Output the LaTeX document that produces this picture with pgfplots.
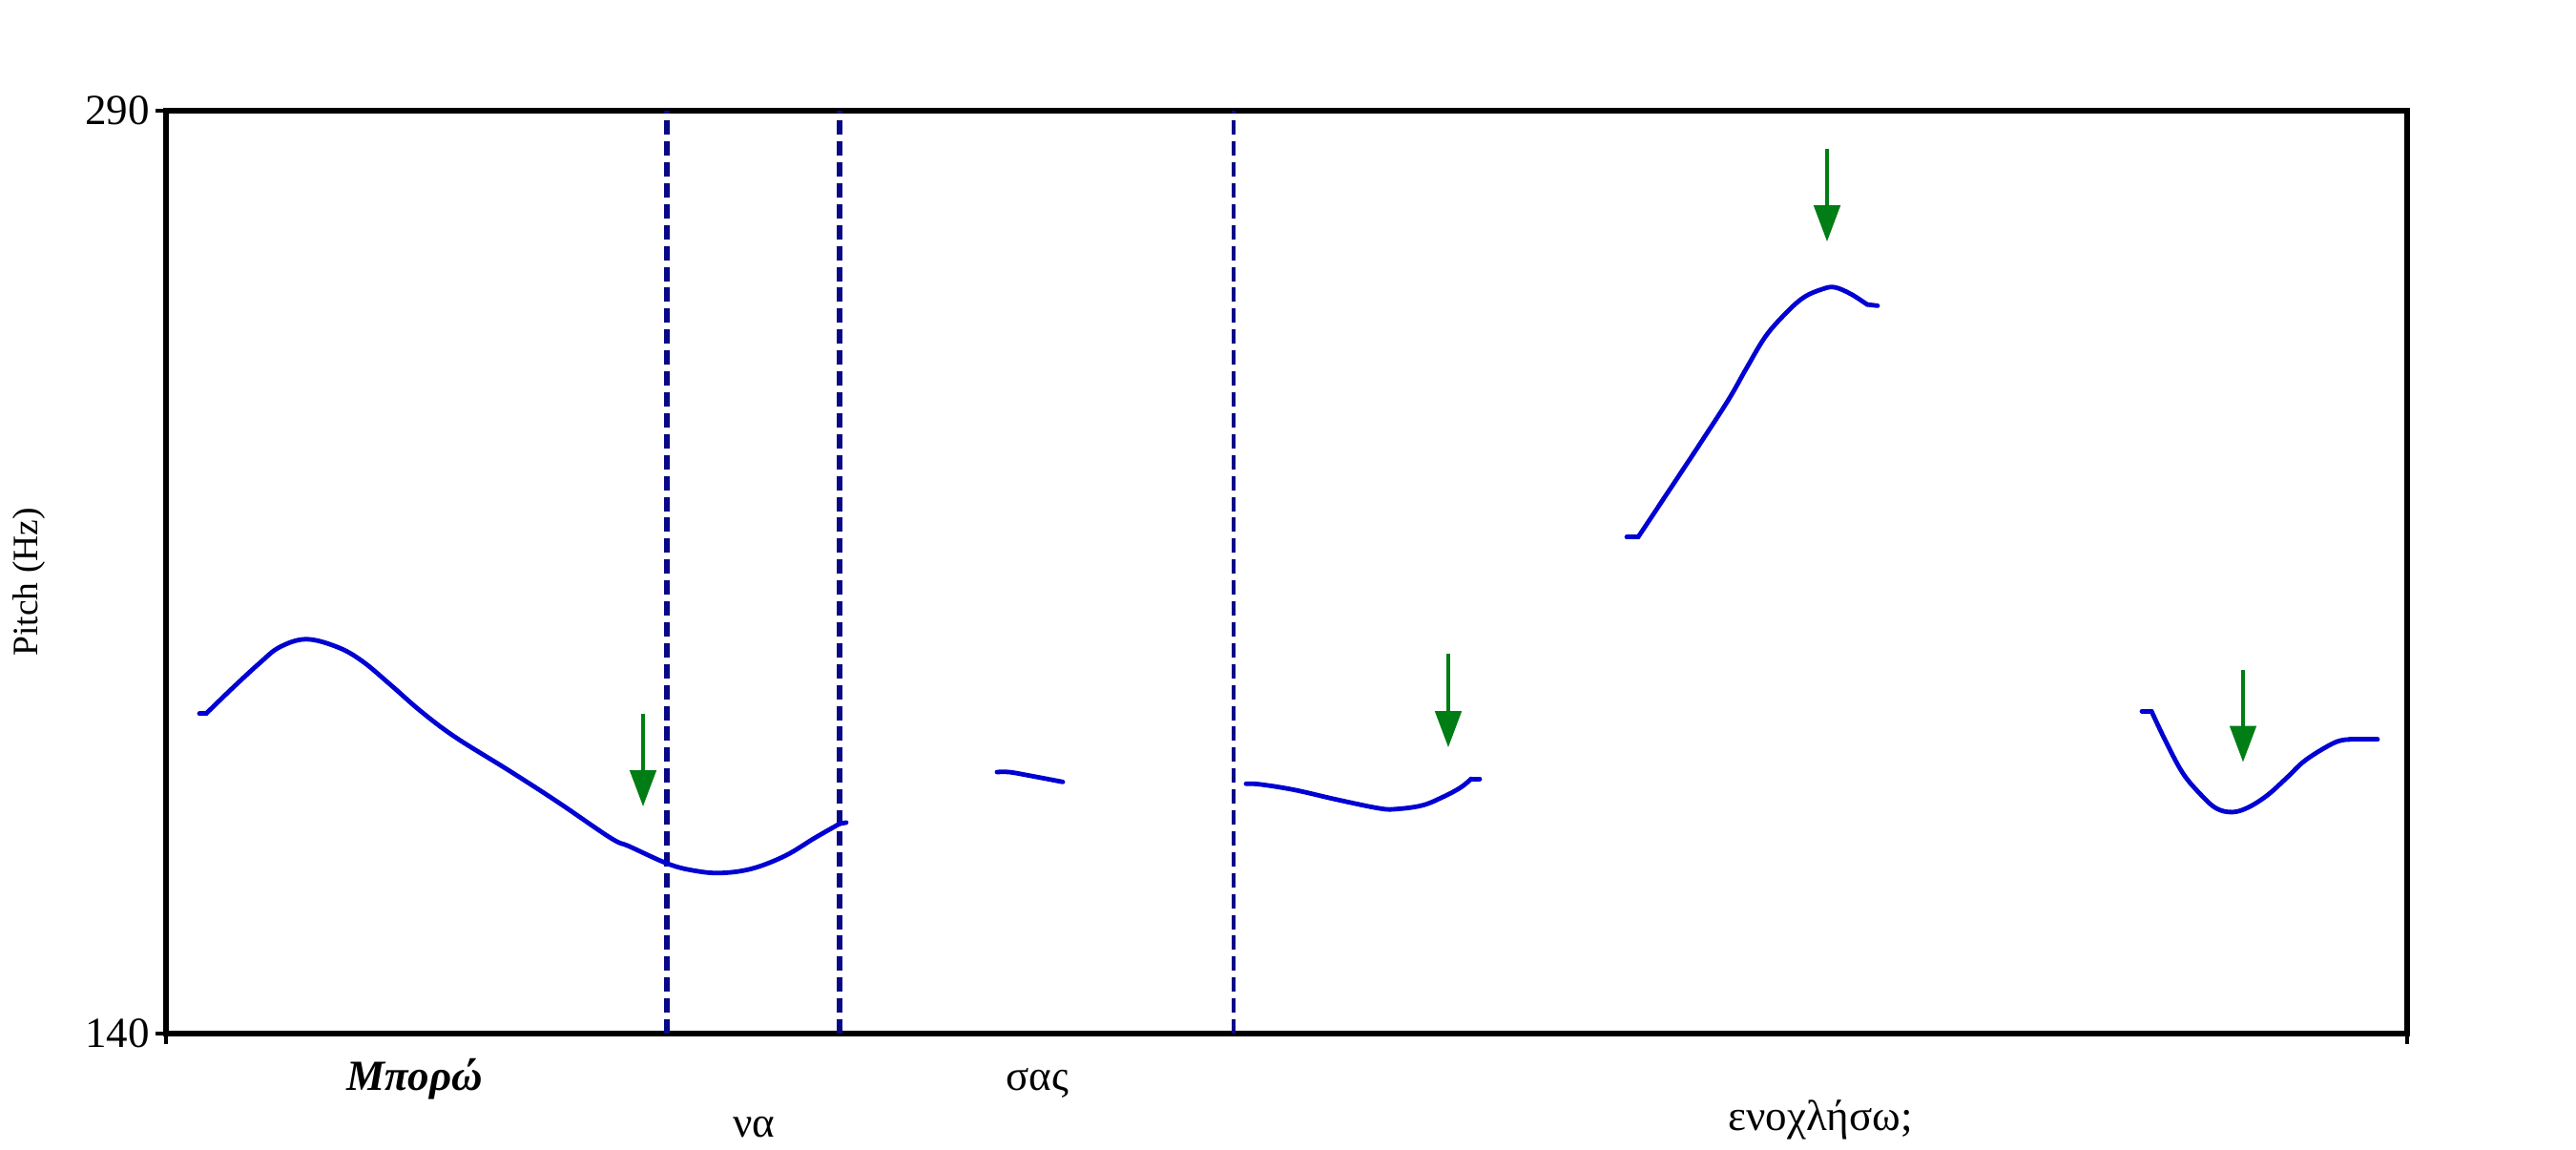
\documentclass[border=0pt]{standalone}
\usepackage{fontspec}
\setmainfont{Liberation Serif}
\usepackage{pgfplots}
\pgfplotsset{compat=1.18}
\usetikzlibrary{arrows.meta}
\definecolor{curveblue}{RGB}{0,0,210}
\definecolor{navyd}{RGB}{8,8,135}
\definecolor{arrgreen}{RGB}{0,125,20}
\begin{document}
\begin{tikzpicture}
\begin{axis}[
  scale only axis,
  width=783pt, height=322.33pt,
  xmin=174, xmax=2523, ymin=140, ymax=290,
  axis line style={line width=1.8pt, black},
  tick pos=left,
  tick align=outside,
  major tick length=3.5pt,
  tick style={line width=1.5pt, black},
  xtick={174,2523}, xticklabels={,},
  ytick={140,290},
  /pgf/number format/assume math mode=true,
  yticklabel style={font=\fontsize{15}{17}\selectfont, inner sep=0pt, xshift=-2pt},
  clip=false,
  curve/.style={curveblue, line width=1.6pt, line cap=round, line join=round},
]
% dashed word boundaries
\addplot[navyd, line width=1.7pt, dash pattern=on 5pt off 2.3pt] coordinates {(699,140) (699,290)};
\addplot[navyd, line width=1.7pt, dash pattern=on 5pt off 2.3pt] coordinates {(880,140) (880,290)};
\addplot[navyd, line width=1.5pt, dash pattern=on 5pt off 2.3pt] coordinates {(1293,140) (1293,290)};
% pitch contour segments (flat parts straight, the rest smoothed)
\addplot[curve] coordinates {(209,192.0)(216,192.0)};
\addplot[curve, smooth, tension=0.6] coordinates {
(216,192.0)(244,196.2)(272,200.2)(293,202.8)(321,204.1)(354,202.8)(380,200.5)(410,196.6)(441,192.4)(477,188.2)(533,182.8)(584,177.7)(640,171.8)(660,170.4)(700,167.6)(727,166.5)(755,166.1)(788,166.8)(823,168.9)(854,171.8)(880,174.1)};
\addplot[curve] coordinates {(880,174.1)(887,174.3)};
\addplot[curve, smooth, tension=0.6] coordinates {
(1045,182.5)(1058,182.5)(1080,181.9)(1114,180.9)};
\addplot[curve, smooth, tension=0.6] coordinates {
(1306,180.6)(1321,180.5)(1357,179.6)(1402,178.0)(1446,176.6)(1464,176.5)(1491,177.1)(1513,178.5)(1531,180.0)(1542,181.4)};
\addplot[curve] coordinates {(1542,181.4)(1551,181.4)};
\addplot[curve] coordinates {(1705,220.7)(1717,220.7)};
\addplot[curve, smooth, tension=0.6] coordinates {
(1717,220.7)(1750,228.4)(1782,235.9)(1812,243.1)(1830,248.0)(1850,253.2)(1870,256.8)(1890,259.6)(1910,261.0)(1923,261.3)(1940,260.2)(1957,258.5)};
\addplot[curve] coordinates {(1957,258.5)(1968,258.3)};
\addplot[curve] coordinates {(2245,192.4)(2255,192.4)};
\addplot[curve, smooth, tension=0.6] coordinates {
(2255,192.4)(2270,187.5)(2288,182.3)(2307,178.8)(2323,176.6)(2340,176.0)(2357,176.8)(2377,178.8)(2397,181.6)(2417,184.5)(2447,187.3)(2463,187.8)};
\addplot[curve] coordinates {(2463,187.8)(2492,187.8)};
% arrows
\addplot[arrgreen, line width=1.6pt, -{Triangle[length=12.7pt,width=9pt]}] coordinates {(674,192.0) (674,176.9)};
\addplot[arrgreen, line width=1.6pt, -{Triangle[length=12.7pt,width=9pt]}] coordinates {(1518,201.7) (1518,186.5)};
\addplot[arrgreen, line width=1.6pt, -{Triangle[length=12.7pt,width=9pt]}] coordinates {(1915,283.8) (1915,268.7)};
\addplot[arrgreen, line width=1.6pt, -{Triangle[length=12.7pt,width=9pt]}] coordinates {(2351,199.1) (2351,184.1)};
% word labels
\node[anchor=base, font=\fontsize{15}{17}\selectfont\bfseries\itshape] at (axis cs:435,130.7) {Μπορώ};
\node[anchor=base, font=\fontsize{15}{17}\selectfont] at (axis cs:790,123.1) {να};
\node[anchor=base, font=\fontsize{15}{17}\selectfont] at (axis cs:1087,130.7) {σας};
\node[anchor=base, font=\fontsize{15}{17}\selectfont] at (axis cs:1908,124.2) {ενοχλήσω;};
\node[rotate=90, font=\fontsize{12.5}{14}\selectfont] at ([xshift=-48pt]axis cs:174,213.4) {Pitch (Hz)};
\end{axis}
\path[use as bounding box] (current axis.south west) ++(-58pt,-39pt) rectangle ([shift={(59pt,38.67pt)}]current axis.north east);
\end{tikzpicture}
\end{document}
